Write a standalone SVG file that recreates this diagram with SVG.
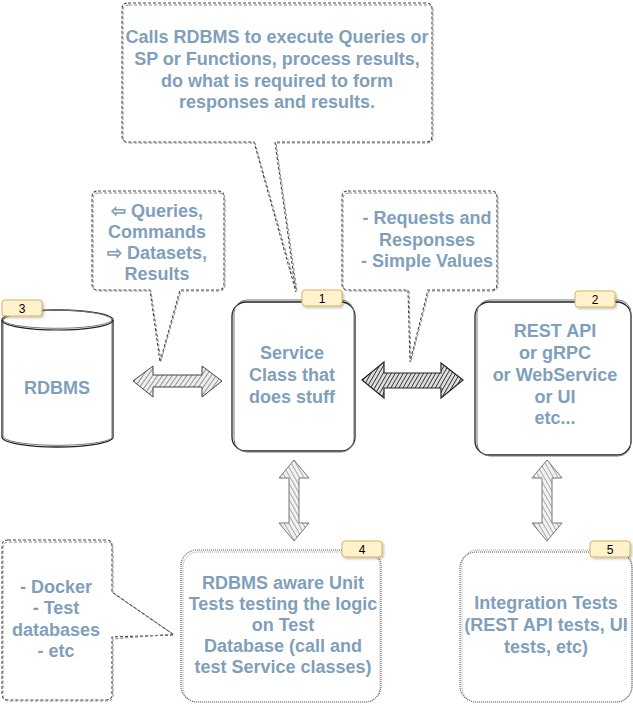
<svg xmlns="http://www.w3.org/2000/svg" width="633" height="705" viewBox="0 0 633 705">
<style>
.t{font-family:"Liberation Sans",Arial,sans-serif;font-weight:bold;font-size:18px;fill:#7F9FBA;text-anchor:middle}
.call{fill:#fff;stroke:#444;stroke-width:1.1;stroke-dasharray:3 2}
.call2{fill:none;stroke:#888;stroke-width:1;stroke-dasharray:3 2}
.box{fill:#fff;stroke:#222;stroke-width:1.3}
.box2{fill:none;stroke:#777;stroke-width:1}
.dbox{fill:#fff;stroke:#555;stroke-width:1.1;stroke-dasharray:1 1}
.dbox2{fill:none;stroke:#999;stroke-width:1;stroke-dasharray:1 1}
.badge{fill:#fff2cc;stroke:#d6b656;stroke-width:1}
.bt{font-family:"Liberation Sans",Arial,sans-serif;font-size:12px;fill:#000;text-anchor:middle}
.arr{fill:url(#hatch);stroke:#444;stroke-width:1}
.arrd{fill:url(#hatchd);stroke:#222;stroke-width:1.2}
.arrv{fill:url(#hatchv);stroke:#777;stroke-width:1}
</style>
<defs>
<pattern id="hatch" patternUnits="userSpaceOnUse" width="4" height="4" patternTransform="rotate(35)">
<rect width="4" height="4" fill="#eee"/><line x1="0" y1="0" x2="0" y2="4" stroke="#555" stroke-width="1.2"/>
</pattern>
<pattern id="hatchd" patternUnits="userSpaceOnUse" width="3.5" height="4" patternTransform="rotate(30)">
<rect width="4" height="4" fill="#ddd"/><line x1="0" y1="0" x2="0" y2="4" stroke="#222" stroke-width="1.6"/>
</pattern>
<pattern id="hatchv" patternUnits="userSpaceOnUse" width="4" height="4" patternTransform="rotate(-30)">
<rect width="4" height="4" fill="#f2f2f2"/><line x1="0" y1="0" x2="0" y2="4" stroke="#777" stroke-width="1.2"/>
</pattern>
<filter id="sh" x="-20%" y="-20%" width="150%" height="160%"><feDropShadow dx="1.5" dy="1.5" stdDeviation="1" flood-color="#000" flood-opacity="0.25"/></filter>
</defs>

<g id="connectors">
<polygon class="arr" points="133,381 153,366 153,375 202,375 202,366 222,381 202,397 202,387 153,387 153,397"/>
<polygon class="arrd" points="362,380 384,362 384,373 441,373 441,363 463,380 441,398 441,388 384,388 384,398"/>
<polygon class="arrv" points="294,460 309,478 299,478 299,523 309,523 294,541 279,523 289,523 289,478 279,478"/>
<polygon class="arrv" points="547,460 562,478 552,478 552,523 562,523 547,541 532,523 542,523 542,478 532,478"/>
</g>

<g id="callout-top">
<path class="call" d="M128,3 H426 Q432,3 432,9 V136 Q432,142 426,142 H275 L296,292 L254,142 H128 Q122,142 122,136 V9 Q122,3 128,3 Z"/>
<path class="call2" d="M129,5 H427 Q433,5 433,11 V137 Q433,143 427,143 H276 L297,291 L255,143 H129 Q123,143 123,137 V11 Q123,5 129,5 Z"/>
<text class="t" x="277" y="43">Calls RDBMS to execute Queries or</text>
<text class="t" x="277" y="65">SP or Functions, process results,</text>
<text class="t" x="277" y="87">do what is required to form</text>
<text class="t" x="277" y="108">responses and results.</text>
</g>

<g id="callout-left">
<path class="call" d="M98,191 H218 Q224,191 224,197 V284 Q224,290 218,290 H180 L160,362 L150,290 H98 Q92,290 92,284 V197 Q92,191 98,191 Z"/>
<path class="call2" d="M99,193 H219 Q225,193 225,199 V285 Q225,291 219,291 H181 L161,361 L151,291 H99 Q93,291 93,285 V199 Q93,193 99,193 Z"/>
<text class="t" x="157" y="217">⇦ Queries,</text>
<text class="t" x="157" y="238">Commands</text>
<text class="t" x="157" y="259">⇨ Datasets,</text>
<text class="t" x="157" y="280">Results</text>
</g>

<g id="callout-right">
<path class="call" d="M348,191 H491 Q497,191 497,197 V284 Q497,290 491,290 H428 L410,362 L408,290 H348 Q342,290 342,284 V197 Q342,191 348,191 Z"/>
<path class="call2" d="M349,193 H492 Q498,193 498,199 V285 Q498,291 492,291 H429 L411,361 L409,291 H349 Q343,291 343,285 V199 Q343,193 349,193 Z"/>
<text class="t" x="427" y="224">- Requests and</text>
<text class="t" x="427" y="246">Responses</text>
<text class="t" x="427" y="267">- Simple Values</text>
</g>

<g id="callout-bottom-left">
<path class="call" d="M8,540 H106 Q112,540 112,546 V592 L174,635 L112,637 V694 Q112,700 106,700 H8 Q2,700 2,694 V546 Q2,540 8,540 Z"/>
<path class="call2" d="M9,542 H107 Q113,542 113,548 V593 L173,634 L113,639 V695 Q113,701 107,701 H9 Q3,701 3,695 V548 Q3,542 9,542 Z"/>
<text class="t" x="56" y="593">- Docker</text>
<text class="t" x="56" y="614">- Test</text>
<text class="t" x="56" y="636">databases</text>
<text class="t" x="56" y="657">- etc</text>
</g>

<g id="node-rdbms">
<path class="box" d="M2,320 A55.5,10 0 0 1 113,320 V437 A55.5,10 0 0 1 2,437 Z"/>
<path class="box2" d="M3,321 A55,11 0 0 1 112,319 V438 A55,9 0 0 1 3,436 Z"/>
<path fill="none" stroke="#222" stroke-width="1.2" d="M2,320 A55.5,10 0 0 0 113,320"/>
<path fill="none" stroke="#777" stroke-width="1" d="M3,321 A55,9 0 0 0 112,319"/>
<rect class="badge" filter="url(#sh)" x="2" y="300" width="40" height="16" rx="3"/>
<text class="bt" x="22" y="313">3</text>
<text class="t" x="57" y="394">RDBMS</text>
</g>

<g id="node-service">
<rect class="box" x="232" y="302" width="123" height="149" rx="14"/>
<rect class="box2" x="234" y="300" width="120" height="152" rx="13"/>
<rect class="badge" filter="url(#sh)" x="302" y="290" width="40" height="16" rx="3"/>
<text class="bt" x="322" y="303">1</text>
<text class="t" x="292" y="359">Service</text>
<text class="t" x="292" y="381">Class that</text>
<text class="t" x="292" y="403">does stuff</text>
</g>

<g id="node-api">
<rect class="box" x="475" y="302" width="156" height="153" rx="14"/>
<rect class="box2" x="477" y="300" width="154" height="156" rx="13"/>
<rect class="badge" filter="url(#sh)" x="575" y="291" width="40" height="16" rx="3"/>
<text class="bt" x="595" y="304">2</text>
<text class="t" x="555" y="337">REST API</text>
<text class="t" x="555" y="359">or gRPC</text>
<text class="t" x="555" y="381">or WebService</text>
<text class="t" x="555" y="403">or UI</text>
<text class="t" x="555" y="424">etc...</text>
</g>

<g id="node-unit-tests">
<rect class="dbox" x="181" y="550" width="200" height="152" rx="16"/>
<rect class="dbox2" x="183" y="552" width="197" height="150" rx="15"/>
<rect class="badge" filter="url(#sh)" x="342" y="541" width="40" height="16" rx="3"/>
<text class="bt" x="362" y="554">4</text>
<text class="t" x="283" y="589">RDBMS aware Unit</text>
<text class="t" x="283" y="610">Tests testing the logic</text>
<text class="t" x="283" y="631">on Test</text>
<text class="t" x="283" y="652">Database (call and</text>
<text class="t" x="283" y="673">test Service classes)</text>
</g>

<g id="node-integration-tests">
<rect class="dbox" x="460" y="552" width="172" height="150" rx="16"/>
<rect class="dbox2" x="462" y="550" width="170" height="152" rx="15"/>
<rect class="badge" filter="url(#sh)" x="590" y="541" width="40" height="16" rx="3"/>
<text class="bt" x="610" y="554">5</text>
<text class="t" x="546" y="609">Integration Tests</text>
<text class="t" x="546" y="631">(REST API tests, UI</text>
<text class="t" x="546" y="653">tests, etc)</text>
</g>
</svg>
